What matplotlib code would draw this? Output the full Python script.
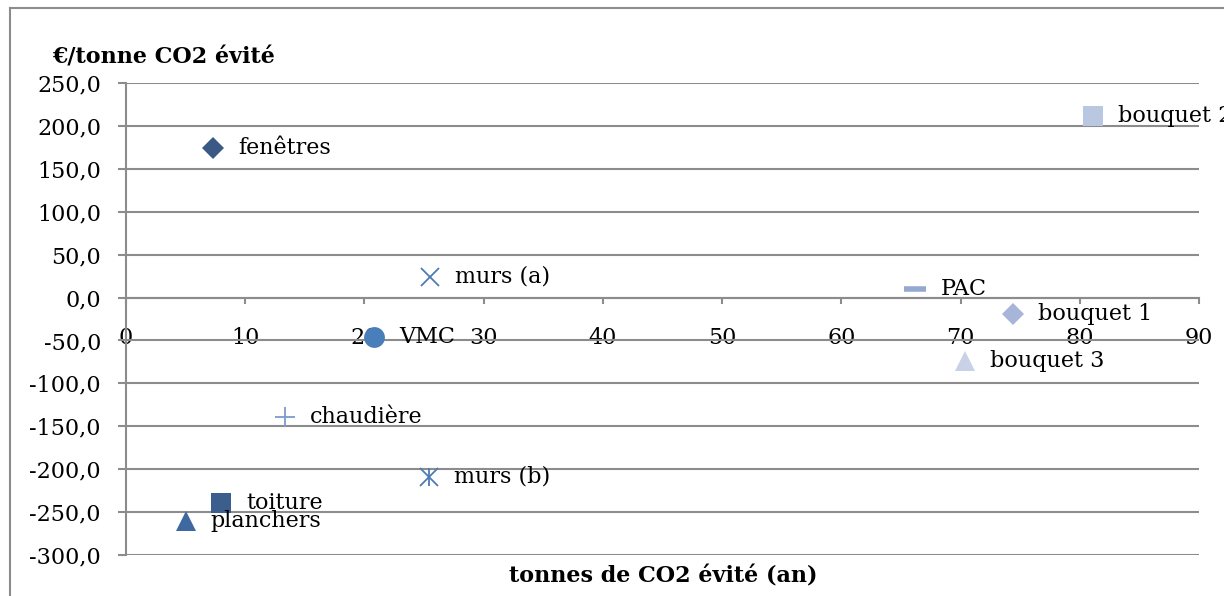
import matplotlib
matplotlib.use("Agg")
import matplotlib.pyplot as plt
from matplotlib.lines import Line2D

# ---------------------------------------
# Data
# ---------------------------------------
labels = ["fenêtres", "bouquet 2", "murs (a)", "PAC", "bouquet 1", "VMC",
          "bouquet 3", "chaudière", "murs (b)", "toiture", "planchers"]
tonnes = [7.3, 81.1, 25.5, 66.2, 74.4, 20.8, 70.4, 13.3, 25.4, 8.0, 5.0]
cost = [174.0, 211.5, 24.0, 10.0, -19.0, -46.0, -74.0, -139.0, -209.0, -239.5, -260.5]

x_ticks = [0, 10, 20, 30, 40, 50, 60, 70, 80, 90]
y_ticks = [250, 200, 150, 100, 50, 0, -50, -100, -150, -200, -250, -300]

# marker style per point: (marker, colour, size, edge width)
styles = [
    ("D", "#3A5A85", 11, 0),
    ("s", "#B9C7E0", 15, 0),
    ("x", "#4F7BB5", 13, 1.3),
    ("_", "#95A9D0", 16, 4),
    ("D", "#A6B5D8", 11, 0),
    ("o", "#4A7EBB", 15, 0),
    ("^", "#C8D1E6", 15, 0),
    ("+", "#7C9CCD", 15, 1.3),
    ("x", "#4F7BB5", 13, 1.3),
    ("s", "#3B5E8C", 15, 0),
    ("^", "#3E68A0", 15, 0),
]

GRID = "#8C8C8C"
FS = 16
plt.rcParams['font.family'] = "DejaVu Serif"

fig = plt.figure(figsize=(12.24, 5.96), dpi=100)
ax = fig.add_axes([126 / 1224, 1 - 555 / 596, (1199 - 126) / 1224, (555 - 83) / 596])

ax.set_xlim(0, 90)
ax.set_ylim(-300, 250)

# grid + spines
ax.set_yticks(y_ticks)
ax.set_yticklabels([f"{v:.1f}".replace(".", ",") for v in y_ticks])
ax.yaxis.grid(True, color=GRID, lw=1.5)
ax.set_axisbelow(True)
for s in ["top", "right"]:
    ax.spines[s].set_visible(False)
ax.spines["left"].set_color(GRID)
ax.spines["left"].set_linewidth(1.5)
ax.tick_params(axis="y", length=6, width=1.5, color=GRID, pad=12, labelsize=FS)

# x axis drawn at y = 0
ax.spines["bottom"].set_position(("data", 0))
ax.spines["bottom"].set_color(GRID)
ax.spines["bottom"].set_linewidth(1.5)
ax.set_xticks(x_ticks)
ax.set_xticklabels([str(v) for v in x_ticks])
ax.tick_params(axis="x", length=4, width=1.5, color=GRID, pad=17.5, labelsize=FS)

# points + labels
for name, xv, yv, (m, c, ms, mew) in zip(labels, tonnes, cost, styles):
    ax.plot([xv], [yv], linestyle="none", marker=m, color=c, markersize=ms,
            markeredgewidth=mew, clip_on=False, zorder=3)
    if name == "murs (b)":
        ax.plot([xv], [yv], linestyle="none", marker="|", color=c, markersize=13,
                markeredgewidth=1.3, clip_on=False, zorder=3)
    ax.annotate(name, (xv, yv), xytext=(25, 0), textcoords="offset pixels",
                va="center", ha="left", fontsize=FS, clip_on=False,
                annotation_clip=False, zorder=4)

# titles
fig.text(52 / 1224, 1 - 57 / 596, "€/tonne CO2 évité", fontsize=FS,
         fontweight="bold", va="center", ha="left")
fig.text(663 / 1224, 1 - 577 / 596, "tonnes de CO2 évité (an)", fontsize=FS,
         fontweight="bold", va="center", ha="center")

# outer chart frame (left and top edges visible)
fx = 10 / 1224
fy = 1 - 8 / 596
fig.add_artist(Line2D([fx, fx], [-0.1, fy], color=GRID, lw=1.5, transform=fig.transFigure))
fig.add_artist(Line2D([fx, 1.1], [fy, fy], color=GRID, lw=1.5, transform=fig.transFigure))

fig.savefig("out.png", dpi=100)
